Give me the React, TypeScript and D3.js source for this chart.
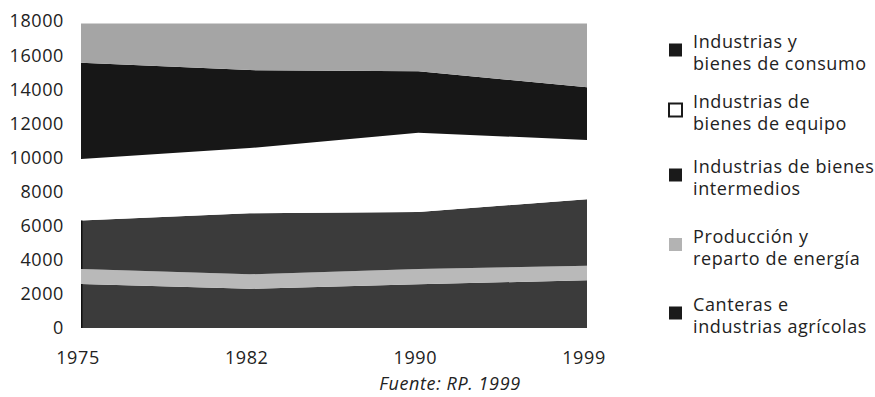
import React from "react";
import * as d3 from "d3";

const years = ["1975", "1982", "1990", "1999"];
// series values (stack order bottom → top)
const canteras = [2580, 2300, 2560, 2800];
const energia = [880, 850, 900, 850];
const intermedios = [2840, 3575, 3340, 3895];
const equipo = [3610, 3825, 4650, 3475];
const consumo = [5640, 4570, 3600, 3090];
const resto = [2300, 2730, 2800, 3740];
const yTicks = [0, 2000, 4000, 6000, 8000, 10000, 12000, 14000, 16000, 18000];

const legendLabels = [
  ["Industrias y", "bienes de consumo"],
  ["Industrias de", "bienes de equipo"],
  ["Industrias de bienes", "intermedios"],
  ["Producción y", "reparto de energía"],
  ["Canteras e", "industrias agrícolas"],
];

const W = 875;
const H = 397;
const FONT = "'Open Sans', sans-serif";

export default function App() {
  const keys = ["canteras", "energia", "intermedios", "equipo", "consumo", "resto"];
  const seriesMap: Record<string, number[]> = { canteras, energia, intermedios, equipo, consumo, resto };
  const rows = years.map((y, i) => {
    const r: any = { year: y };
    keys.forEach((k) => (r[k] = seriesMap[k][i]));
    return r;
  });
  const stack = d3.stack().keys(keys)(rows as any);

  const x = d3.scalePoint<string>().domain(years).range([81, 587]);
  const y = d3.scaleLinear().domain([0, 18000]).range([328, 21]);

  const fills: Record<string, string> = {
    canteras: "#3b3b3b",
    energia: "#b9b9b9",
    intermedios: "#3b3b3b",
    equipo: "#ffffff",
    consumo: "#171717",
    resto: "#a5a5a5",
  };

  const area = d3
    .area<any>()
    .x((d) => x(d.data.year) as number)
    .y0((d) => y(d[0]))
    .y1((d) => y(d[1]));

  const legendColors = ["#1a1a1a", "#ffffff", "#1a1a1a", "#b3b3b3", "#1a1a1a"];
  const legendY = [48, 108, 173, 242.5, 311];

  const textStyle = { fontFamily: FONT, fontSize: 18, letterSpacing: 0.6, fill: "#222" } as const;

  return (
    <svg width={W} height={H} style={{ position: "absolute", left: 0, top: 0, background: "#fff" }}>
      {stack.map((s) => (
        <path key={s.key} d={area(s as any) as string} fill={fills[s.key]} />
      ))}
      {stack
        .filter((s) => s.key === "canteras" || s.key === "intermedios")
        .map((s) => (
          <line
            key={"edge" + s.key}
            x1={x(years[0])! + 0.75}
            x2={x(years[0])! + 0.75}
            y1={y(s[0][0])}
            y2={y(s[0][1])}
            stroke="#111"
            strokeWidth={1.5}
          />
        ))}
      {yTicks.map((t) => (
        <text key={t} x={64} y={y(t)} dy="0.36em" textAnchor="end" {...textStyle}>
          {t}
        </text>
      ))}
      {years.map((yr) => (
        <text key={yr} x={(x(yr) as number) - 3} y={364} textAnchor="middle" {...textStyle}>
          {yr}
        </text>
      ))}
      <text x={450} y={390} textAnchor="middle" fontStyle="italic" {...textStyle}>
        Fuente: RP. 1999
      </text>
      {legendLabels.map((lines, i) => (
        <g key={i}>
          <rect
            x={669}
            y={legendY[i] - 4.5}
            width={13}
            height={13}
            fill={legendColors[i]}
            stroke={i === 1 ? "#1a1a1a" : "none"}
            strokeWidth={i === 1 ? 2 : 0}
          />
          <text x={693} y={legendY[i]} {...textStyle}>
            {lines[0]}
          </text>
          <text x={693} y={legendY[i] + 22} {...textStyle}>
            {lines[1]}
          </text>
        </g>
      ))}
    </svg>
  );
}
